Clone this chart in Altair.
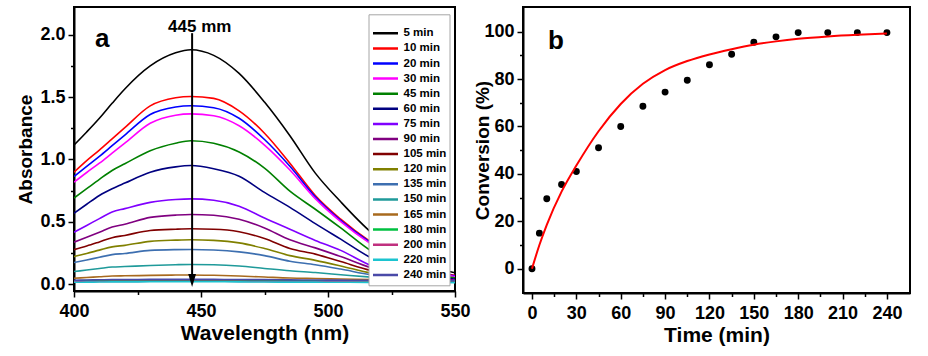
import altair as alt
import pandas as pd

# ---------------- data: panel a (UV-vis spectra) ----------------
wavelengths = [400, 405, 410, 415, 420, 430, 440, 446, 455, 465, 475, 485, 495, 505, 517, 530, 540, 550]
series_labels = ["5 min", "10 min", "20 min", "30 min", "45 min", "60 min", "75 min", "90 min",
                 "105 min", "120 min", "135 min", "150 min", "165 min", "180 min", "200 min",
                 "220 min", "240 min"]
series_colors = ["#000000", "#FF0000", "#0000FF", "#FF00FF", "#008000", "#000080", "#8000FF",
                 "#800080", "#800000", "#808000", "#3D6FB0", "#1F9A9A", "#A86A1E", "#00C040",
                 "#C0307F", "#1CC4D0", "#4A4AA8"]

abs_5 = [1.115, 1.22, 1.33, 1.45, 1.565, 1.75, 1.855, 1.88, 1.835, 1.69, 1.46, 1.19, 0.89, 0.66, 0.415, 0.23, 0.14, 0.09]
abs_10 = [0.897, 0.99, 1.075, 1.165, 1.255, 1.43, 1.495, 1.505, 1.49, 1.39, 1.21, 0.97, 0.71, 0.52, 0.335, 0.18, 0.11, 0.07]
abs_20 = [0.863, 0.945, 1.025, 1.11, 1.195, 1.36, 1.42, 1.43, 1.415, 1.33, 1.16, 0.945, 0.70, 0.51, 0.33, 0.175, 0.105, 0.065]
abs_30 = [0.817, 0.895, 0.97, 1.05, 1.13, 1.29, 1.355, 1.365, 1.35, 1.27, 1.115, 0.915, 0.685, 0.50, 0.32, 0.17, 0.10, 0.06]
abs_45 = [0.69, 0.765, 0.84, 0.911, 0.965, 1.07, 1.13, 1.15, 1.13, 1.06, 0.93, 0.745, 0.60, 0.45, 0.265, 0.14, 0.085, 0.05]
abs_60 = [0.568, 0.64, 0.71, 0.764, 0.81, 0.897, 0.94, 0.951, 0.925, 0.865, 0.735, 0.615, 0.485, 0.36, 0.21, 0.11, 0.065, 0.04]
abs_75 = [0.416, 0.47, 0.525, 0.578, 0.605, 0.655, 0.678, 0.683, 0.672, 0.625, 0.53, 0.44, 0.35, 0.27, 0.148, 0.08, 0.05, 0.03]
abs_90 = [0.336, 0.375, 0.415, 0.457, 0.48, 0.535, 0.553, 0.558, 0.552, 0.52, 0.45, 0.355, 0.29, 0.22, 0.13, 0.07, 0.045, 0.028]
abs_105 = [0.276, 0.305, 0.338, 0.372, 0.39, 0.43, 0.44, 0.443, 0.44, 0.42, 0.365, 0.285, 0.24, 0.18, 0.108, 0.06, 0.04, 0.025]
abs_120 = [0.22, 0.245, 0.272, 0.298, 0.31, 0.342, 0.352, 0.355, 0.35, 0.33, 0.285, 0.228, 0.19, 0.145, 0.087, 0.05, 0.033, 0.022]
abs_135 = [0.172, 0.193, 0.215, 0.236, 0.245, 0.27, 0.276, 0.277, 0.273, 0.258, 0.228, 0.183, 0.155, 0.12, 0.074, 0.045, 0.03, 0.02]
abs_150 = [0.10, 0.112, 0.124, 0.136, 0.14, 0.149, 0.155, 0.157, 0.155, 0.145, 0.125, 0.106, 0.092, 0.075, 0.055, 0.038, 0.028, 0.02]
abs_165 = [0.046, 0.052, 0.058, 0.064, 0.066, 0.069, 0.072, 0.073, 0.07, 0.064, 0.056, 0.048, 0.044, 0.04, 0.036, 0.03, 0.026, 0.022]
abs_180 = [0.025, 0.027, 0.028, 0.03, 0.03, 0.031, 0.031, 0.031, 0.03, 0.029, 0.028, 0.026, 0.025, 0.024, 0.022, 0.021, 0.02, 0.02]
abs_200 = [0.018, 0.019, 0.02, 0.021, 0.021, 0.022, 0.022, 0.022, 0.022, 0.021, 0.02, 0.019, 0.018, 0.017, 0.016, 0.015, 0.015, 0.014]
abs_220 = [0.014, 0.015, 0.016, 0.017, 0.017, 0.018, 0.018, 0.018, 0.018, 0.017, 0.016, 0.015, 0.015, 0.014, 0.013, 0.012, 0.012, 0.011]
abs_240 = [0.03, 0.032, 0.034, 0.036, 0.036, 0.037, 0.037, 0.037, 0.037, 0.036, 0.035, 0.033, 0.032, 0.031, 0.03, 0.028, 0.027, 0.026]

all_abs = [abs_5, abs_10, abs_20, abs_30, abs_45, abs_60, abs_75, abs_90, abs_105, abs_120,
           abs_135, abs_150, abs_165, abs_180, abs_200, abs_220, abs_240]

x_ticks_a = [400, 450, 500, 550]
x_minor_a = [425, 475, 525]
y_ticks_a = [0.0, 0.5, 1.0, 1.5, 2.0]
y_minor_a = [0.25, 0.75, 1.25, 1.75]

# annotation (arrow at absorption maximum)
arrow_x = [446.5]
arrow_top = [2.013]
arrow_bottom = [0.04]
arrow_head = [0.028]
peak_label = ["445 mm"]
peak_label_x = [449.5]
peak_label_y = [2.02]
panel_a_label = ["a"]
panel_a_x = [408.3]
panel_a_y = [1.90]

# ---------------- data: panel b (conversion vs time) ----------------
times = [0, 5, 10, 20, 30, 45, 60, 75, 90, 105, 120, 135, 150, 165, 180, 200, 220, 240]
conversion = [0, 15, 29.5, 35.5, 41, 51, 60, 68.5, 74.5, 79.5, 86, 90.5, 95.5, 97.8, 99.6, 99.6, 99.6, 99.6]
fit_times = [0, 5, 10, 20, 30, 45, 60, 75, 90, 105, 120, 135, 150, 165, 180, 200, 220, 240]
fit_conv = [0, 10, 18.5, 32.5, 43.5, 58, 69.5, 78, 83.8, 87.6, 90.4, 92.6, 94.5, 95.9, 97.0, 98.0, 98.7, 99.2]

x_ticks_b = [0, 30, 60, 90, 120, 150, 180, 210, 240]
x_minor_b = [15, 45, 75, 105, 135, 165, 195, 225]
y_ticks_b = [0, 20, 40, 60, 80, 100]
y_minor_b = [10, 30, 50, 70, 90]
panel_b_label = ["b"]
panel_b_x = [10.8]
panel_b_y = [92.7]

# ---------------- build tables ----------------
rows = []
for lab, vals in zip(series_labels, all_abs):
    for w, a in zip(wavelengths, vals):
        rows.append({"wl": w, "A": a, "series": lab})
spec_df = pd.DataFrame(rows)

FONT = "Liberation Sans"

lam_scale = alt.Scale(domain=[400, 550], nice=False, zero=False)
abs_scale = alt.Scale(domain=[-0.056, 2.223], nice=False, zero=False)

lines = alt.Chart(spec_df).mark_line(strokeWidth=1.6, interpolate="monotone", clip=True).encode(
    x=alt.X("wl:Q", scale=lam_scale,
            axis=alt.Axis(values=x_ticks_a, title="Wavelength (nm)", orient="bottom", format="d")),
    y=alt.Y("A:Q", scale=abs_scale,
            axis=alt.Axis(values=y_ticks_a, title="Absorbance", orient="left", format=".1f",
                          titleX=-49, titleY=142, titleAlign="center", titleBaseline="middle")),
    color=alt.Color("series:N", sort=series_labels,
                    scale=alt.Scale(domain=series_labels, range=series_colors),
                    legend=alt.Legend(title=" ", orient="none", legendX=294.5, legendY=7.3,
                                      symbolType="stroke", symbolSize=625, symbolStrokeWidth=2.5,
                                      labelFont=FONT, labelFontSize=11.5, labelFontWeight="bold",
                                      labelColor="black", fillColor="white", strokeColor="#a6a6a6",
                                      padding=3, rowPadding=1.1, clipHeight=14, titleFontSize=9,
                                      titlePadding=0, labelOffset=4, labelLimit=120)),
)

minor_a_df = pd.DataFrame({"wl": x_minor_a + [None], "A": y_minor_a})
minor_a = alt.Chart(minor_a_df).mark_point(opacity=0).encode(
    x=alt.X("wl:Q", scale=lam_scale,
            axis=alt.Axis(values=x_minor_a, labels=False, tickSize=3.5, title=None, domain=False, orient="bottom")),
    y=alt.Y("A:Q", scale=abs_scale,
            axis=alt.Axis(values=y_minor_a, labels=False, tickSize=3.5, title=None, domain=False, orient="left")),
)

arrow_df = pd.DataFrame({"x": arrow_x, "top": arrow_top, "bottom": arrow_bottom, "head": arrow_head})
arrow_line = alt.Chart(arrow_df).mark_rule(color="black", strokeWidth=2).encode(
    x=alt.X("x:Q", scale=lam_scale, axis=None),
    y=alt.Y("top:Q", scale=abs_scale, axis=None),
    y2="bottom:Q",
)
arrow_tip = alt.Chart(arrow_df).mark_point(
    shape="M-0.3,-0.5L0.3,-0.5L0,0.5Z", filled=True, color="black", opacity=1, size=676, strokeWidth=0
).encode(
    x=alt.X("x:Q", scale=lam_scale, axis=None),
    y=alt.Y("head:Q", scale=abs_scale, axis=None),
)

peak_df = pd.DataFrame({"x": peak_label_x, "y": peak_label_y, "t": peak_label})
peak_text = alt.Chart(peak_df).mark_text(font=FONT, fontSize=17, fontWeight="bold", align="center",
                                         baseline="alphabetic", color="black").encode(
    x=alt.X("x:Q", scale=lam_scale, axis=None),
    y=alt.Y("y:Q", scale=abs_scale, axis=None),
    text="t:N",
)
pa_df = pd.DataFrame({"x": panel_a_x, "y": panel_a_y, "t": panel_a_label})
pa_text = alt.Chart(pa_df).mark_text(font=FONT, fontSize=26, fontWeight="bold", align="left",
                                     baseline="alphabetic", color="black").encode(
    x=alt.X("x:Q", scale=lam_scale, axis=None),
    y=alt.Y("y:Q", scale=abs_scale, axis=None),
    text="t:N",
)

left = alt.layer(lines, minor_a, arrow_line, arrow_tip, peak_text, pa_text).resolve_axis(
    x="independent", y="independent").properties(width=381, height=284)

# ---------------- panel b ----------------
t_scale = alt.Scale(domain=[-6.08, 255.6], nice=False, zero=False)
c_scale = alt.Scale(domain=[-10.25, 110.4], nice=False, zero=False)

pts_df = pd.DataFrame({"t": times, "c": conversion})
fit_df = pd.DataFrame({"t": fit_times, "c": fit_conv})

dots = alt.Chart(pts_df).mark_circle(size=48, color="black", opacity=1).encode(
    x=alt.X("t:Q", scale=t_scale, axis=alt.Axis(values=x_ticks_b, title="Time (min)", orient="bottom", format="d")),
    y=alt.Y("c:Q", scale=c_scale, axis=alt.Axis(values=y_ticks_b, title="Conversion (%)", orient="left", format="d",
                                                titleX=-41, titleY=143, titleAlign="center",
                                                titleBaseline="middle")),
)
fit = alt.Chart(fit_df).mark_line(color="#FF0000", strokeWidth=2, interpolate="monotone").encode(
    x=alt.X("t:Q", scale=t_scale, axis=None),
    y=alt.Y("c:Q", scale=c_scale, axis=None),
)
minor_b_df = pd.DataFrame({"t": x_minor_b, "c": y_minor_b + [None] * (len(x_minor_b) - len(y_minor_b))})
minor_b = alt.Chart(minor_b_df).mark_point(opacity=0).encode(
    x=alt.X("t:Q", scale=t_scale,
            axis=alt.Axis(values=x_minor_b, labels=False, tickSize=3.5, title=None, domain=False, orient="bottom")),
    y=alt.Y("c:Q", scale=c_scale,
            axis=alt.Axis(values=y_minor_b, labels=False, tickSize=3.5, title=None, domain=False, orient="left")),
)
pb_df = pd.DataFrame({"x": panel_b_x, "y": panel_b_y, "t": panel_b_label})
pb_text = alt.Chart(pb_df).mark_text(font=FONT, fontSize=26, fontWeight="bold", align="left",
                                     baseline="alphabetic", color="black").encode(
    x=alt.X("x:Q", scale=t_scale, axis=None),
    y=alt.Y("y:Q", scale=c_scale, axis=None),
    text="t:N",
)

right = alt.layer(dots, fit, minor_b, pb_text).resolve_axis(
    x="independent", y="independent").properties(width=387, height=286)

chart = alt.hconcat(left, right, spacing=0).properties(
    padding={"left": 15, "top": 6, "right": 5, "bottom": 5},
    background="white",
).configure_view(
    stroke="black", strokeWidth=2
).configure_axis(
    domain=True, domainColor="black", domainWidth=2,
    tickColor="black", tickWidth=1.5, tickSize=6,
    grid=False, labelFlush=False,
    labelFont=FONT, labelFontSize=18, labelFontWeight="bold", labelColor="black",
    titleFont=FONT, titleFontSize=19, titleFontWeight="bold", titleColor="black",
).configure_axisLeft(
    labelPadding=3, titlePadding=3
).configure_axisBottom(
    labelPadding=5, titlePadding=2, titleFontSize=21
)

chart.save("out.html", embed_options={"renderer": "svg", "actions": False})
